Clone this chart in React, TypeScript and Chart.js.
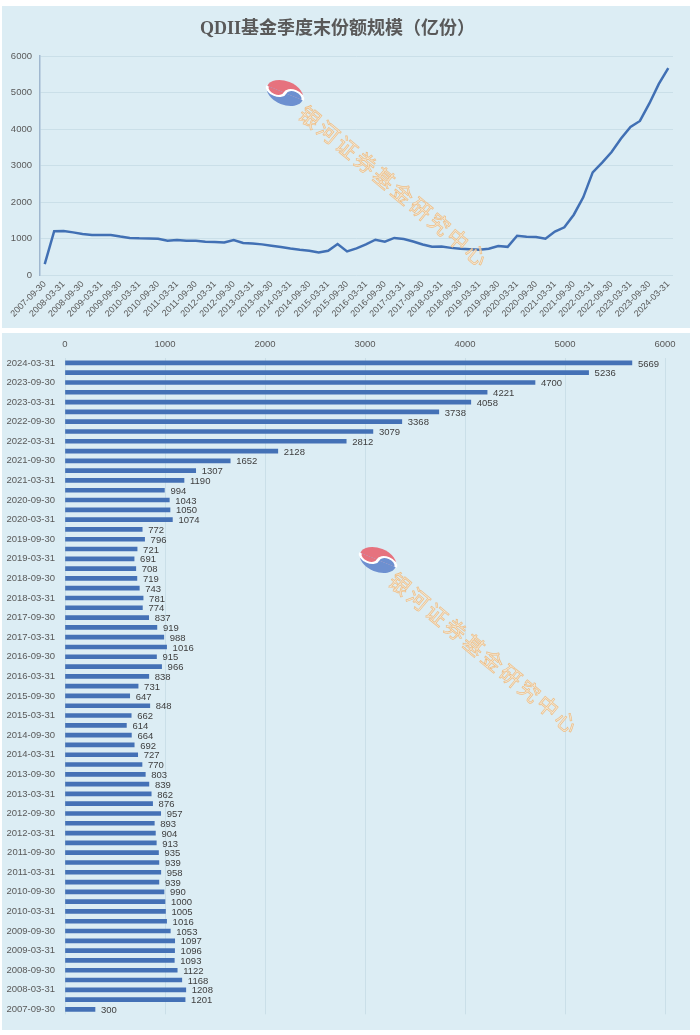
import React, { useEffect, useRef } from 'react';
import { Chart, registerables } from 'chart.js';

Chart.register(...registerables);

const TITLE = 'QDII基金季度末份额规模（亿份）';
const WATERMARK = '银河证券基金研究中心';

const quarterEnds = [
  '2007-09-30', '2007-12-31',
  '2008-03-31', '2008-06-30', '2008-09-30', '2008-12-31',
  '2009-03-31', '2009-06-30', '2009-09-30', '2009-12-31',
  '2010-03-31', '2010-06-30', '2010-09-30', '2010-12-31',
  '2011-03-31', '2011-06-30', '2011-09-30', '2011-12-31',
  '2012-03-31', '2012-06-30', '2012-09-30', '2012-12-31',
  '2013-03-31', '2013-06-30', '2013-09-30', '2013-12-31',
  '2014-03-31', '2014-06-30', '2014-09-30', '2014-12-31',
  '2015-03-31', '2015-06-30', '2015-09-30', '2015-12-31',
  '2016-03-31', '2016-06-30', '2016-09-30', '2016-12-31',
  '2017-03-31', '2017-06-30', '2017-09-30', '2017-12-31',
  '2018-03-31', '2018-06-30', '2018-09-30', '2018-12-31',
  '2019-03-31', '2019-06-30', '2019-09-30', '2019-12-31',
  '2020-03-31', '2020-06-30', '2020-09-30', '2020-12-31',
  '2021-03-31', '2021-06-30', '2021-09-30', '2021-12-31',
  '2022-03-31', '2022-06-30', '2022-09-30', '2022-12-31',
  '2023-03-31', '2023-06-30', '2023-09-30', '2023-12-31',
  '2024-03-31',
];

const shareSize = [
  300, 1201,
  1208, 1168, 1122, 1093,
  1096, 1097, 1053, 1016,
  1005, 1000, 990, 939,
  958, 939, 935, 913,
  904, 893, 957, 876,
  862, 839, 803, 770,
  727, 692, 664, 614,
  662, 848, 647, 731,
  838, 966, 915, 1016,
  988, 919, 837, 774,
  781, 743, 719, 708,
  691, 721, 796, 772,
  1074, 1050, 1043, 994,
  1190, 1307, 1652, 2128,
  2812, 3079, 3368, 3738,
  4058, 4221, 4700, 5236,
  5669,
];

const axisMin = 0;
const axisMax = 6000;
const axisStep = 1000;

const TICK_FONT = "'Liberation Sans', 'Noto Sans', sans-serif";
const LABEL_FONT = "'Liberation Sans', 'Noto Sans', sans-serif";
const TITLE_FONT = "'Liberation Serif', 'Noto Sans CJK SC', serif";
const TEXT_COLOR = '#595959';
const LINE_COLOR = '#4170b4';
const BAR_COLOR = '#4471b6';
const PANEL_BG = '#dcedf4';
const GRID_COLOR = '#cadfe8';

function drawWatermark(ctx: CanvasRenderingContext2D, lx: number, ly: number, tx: number, ty: number) {
  ctx.save();
  ctx.translate(lx, ly);
  ctx.rotate((22 * Math.PI) / 180);
  ctx.scale(1, 0.62);
  const r = 19;
  const red = '#e6727e';
  const blue = '#6d90d0';
  ctx.beginPath();
  ctx.arc(0, 0, r, Math.PI, 2 * Math.PI);
  ctx.closePath();
  ctx.fillStyle = red;
  ctx.fill();
  ctx.beginPath();
  ctx.arc(0, 0, r, 0, Math.PI);
  ctx.closePath();
  ctx.fillStyle = blue;
  ctx.fill();
  ctx.beginPath();
  ctx.arc(-r / 2, 0, r / 2, 0, Math.PI);
  ctx.fillStyle = red;
  ctx.fill();
  ctx.beginPath();
  ctx.arc(r / 2, 0, r / 2, Math.PI, 2 * Math.PI);
  ctx.fillStyle = blue;
  ctx.fill();
  ctx.beginPath();
  ctx.arc(-r / 2, 0, r / 2, Math.PI, 0, true);
  ctx.arc(r / 2, 0, r / 2, Math.PI, 2 * Math.PI, false);
  ctx.strokeStyle = '#ffffff';
  ctx.lineWidth = 3;
  ctx.stroke();
  ctx.restore();

  ctx.save();
  const ang = (39.6 * Math.PI) / 180;
  ctx.font = "21px 'Noto Sans CJK SC'";
  ctx.textAlign = 'center';
  ctx.textBaseline = 'middle';
  const chars = Array.from(WATERMARK);
  chars.forEach((ch, i) => {
    ctx.save();
    ctx.translate(tx + i * 24 * Math.cos(ang), ty + i * 24 * Math.sin(ang));
    ctx.rotate(ang);
    ctx.fillStyle = 'rgba(252, 232, 205, 0.7)';
    ctx.fillText(ch, 0, 0);
    ctx.strokeStyle = 'rgba(238, 184, 122, 0.9)';
    ctx.lineWidth = 0.7;
    ctx.strokeText(ch, 0, 0);
    ctx.restore();
  });
  ctx.restore();
}

export default function App() {
  const lineRef = useRef<HTMLCanvasElement>(null);
  const barRef = useRef<HTMLCanvasElement>(null);

  useEffect(() => {
    const everyOther = (i: number) => (i % 2 === 0 ? quarterEnds[i] : '');
    const plainNumber = (v: any) => String(v);

    const lineWatermark = {
      id: 'lineWatermark',
      afterDatasetsDraw(chart: any) {
        drawWatermark(chart.ctx, 283, 87, 308, 111);
      },
    };

    const barWatermark = {
      id: 'barWatermark',
      afterDatasetsDraw(chart: any) {
        drawWatermark(chart.ctx, 376, 227, 398, 251);
      },
    };

    const barLabels = {
      id: 'barLabels',
      afterDatasetsDraw(chart: any) {
        const ctx = chart.ctx as CanvasRenderingContext2D;
        const meta = chart.getDatasetMeta(0);
        ctx.save();
        ctx.font = `9.5px ${LABEL_FONT}`;
        ctx.fillStyle = '#404040';
        ctx.textAlign = 'left';
        ctx.textBaseline = 'middle';
        meta.data.forEach((el: any, i: number) => {
          ctx.fillText(String(shareSize[i]), el.x + 6, el.y + 1);
        });
        ctx.restore();
      },
    };

    const lineChart = new Chart(lineRef.current!, {
      type: 'line',
      data: {
        labels: quarterEnds,
        datasets: [
          {
            data: shareSize,
            borderColor: LINE_COLOR,
            borderWidth: 2.5,
            pointRadius: 0,
            tension: 0,
            fill: false,
          },
        ],
      },
      options: {
        responsive: false,
        animation: false,
        devicePixelRatio: 1,
        layout: { padding: { left: 0, right: 17, top: 0, bottom: 0 } },
        plugins: {
          legend: { display: false },
          tooltip: { enabled: false },
          title: {
            display: true,
            text: TITLE,
            color: TEXT_COLOR,
            font: { family: TITLE_FONT, size: 18, weight: 'bold', lineHeight: 1.2 },
            padding: { top: 13, bottom: 15.4 },
          },
        },
        scales: {
          x: {
            offset: true,
            grid: { display: false, drawTicks: false },
            border: { display: false },
            ticks: {
              autoSkip: false,
              minRotation: 45,
              maxRotation: 45,
              padding: 4,
              color: TEXT_COLOR,
              font: { family: TICK_FONT, size: 9 },
              callback: (_v: any, i: number) => everyOther(i),
            },
            afterFit: (s: any) => {
              s.height = 53;
            },
          },
          y: {
            min: axisMin,
            max: axisMax,
            ticks: {
              stepSize: axisStep,
              padding: 8,
              color: TEXT_COLOR,
              font: { family: TICK_FONT, size: 9.5 },
              callback: plainNumber,
            },
            grid: { color: GRID_COLOR, drawTicks: false },
            border: { display: true, color: '#9fb7cf', width: 1.5 },
            afterFit: (s: any) => {
              s.width = 38;
            },
          },
        },
      } as any,
      plugins: [lineWatermark],
    });

    const barChart = new Chart(barRef.current!, {
      type: 'bar',
      data: {
        labels: quarterEnds,
        datasets: [
          {
            data: shareSize,
            backgroundColor: BAR_COLOR,
            barThickness: 4,
          },
        ],
      },
      options: {
        indexAxis: 'y',
        responsive: false,
        animation: false,
        devicePixelRatio: 1,
        layout: { padding: { left: 0, right: 25, top: 0, bottom: 12 } },
        plugins: {
          legend: { display: false },
          tooltip: { enabled: false },
          title: { display: false },
        },
        scales: {
          x: {
            position: 'top',
            min: axisMin,
            max: axisMax,
            ticks: {
              stepSize: axisStep,
              padding: 8,
              color: TEXT_COLOR,
              font: { family: TICK_FONT, size: 9.5 },
              callback: plainNumber,
            },
            grid: { color: GRID_COLOR, drawTicks: false },
            border: { display: false },
            afterFit: (s: any) => {
              s.height = 25;
            },
          },
          y: {
            reverse: true,
            ticks: {
              autoSkip: false,
              padding: 10,
              color: TEXT_COLOR,
              font: { family: TICK_FONT, size: 9.5 },
              callback: (_v: any, i: number) => everyOther(i),
            },
            grid: { display: false, drawTicks: false },
            border: { display: false },
            afterFit: (s: any) => {
              s.width = 63;
            },
          },
        },
      } as any,
      plugins: [barLabels, barWatermark],
    });

    return () => {
      lineChart.destroy();
      barChart.destroy();
    };
  }, []);

  return (
    <div style={{ position: 'absolute', left: 0, top: 0, width: 700, height: 1035, background: '#ffffff' }}>
      <div style={{ position: 'absolute', left: 2, top: 6, width: 688, height: 322, background: PANEL_BG }}>
        <canvas ref={lineRef} width={688} height={322} style={{ display: 'block' }} />
      </div>
      <div style={{ position: 'absolute', left: 2, top: 333, width: 688, height: 697, background: PANEL_BG }}>
        <canvas ref={barRef} width={688} height={697} style={{ display: 'block' }} />
      </div>
    </div>
  );
}
